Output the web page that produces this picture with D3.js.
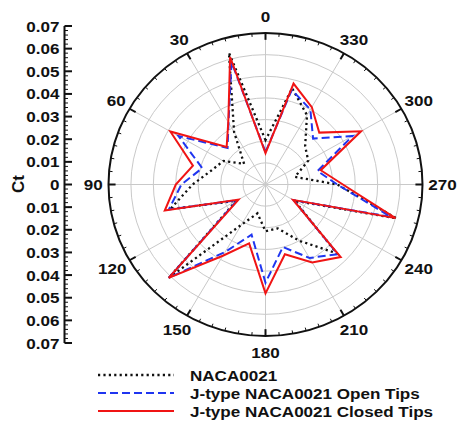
<!DOCTYPE html>
<html>
<head>
<meta charset="utf-8">
<script src="https://cdn.jsdelivr.net/npm/d3@7"></script>
<style>
html,body{margin:0;padding:0;background:#fff;}
svg{display:block;}
text{font-family:"Liberation Sans",Arial,sans-serif;font-weight:bold;fill:#111;}
</style>
</head>
<body>
<svg id="chart" width="457" height="422"></svg>
<script>
// ---- data ----
const angles = [0,15,30,45,60,75,90,105,120,135,150,165,180,195,210,225,240,255,270,285,300,315,330,345];
const naca0021 = [0.0205,0.063,0.028,0.0135,0.0217,0.025,0.0325,0.044,
                  0.015,0.061,0.0215,0.0138,0.0216,0.021,0.030,0.045,
                  0.015,0.0605,0.032,0.0136,0.022,0.025,0.037,0.046];
const openTips = [0.015,0.0585,0.033,0.0239,0.0448,0.0292,0.0375,0.0446,
                  0.0145,0.061,0.036,0.024,0.0454,0.0299,0.0392,0.0455,
                  0.0145,0.058,0.032,0.024,0.0448,0.030,0.040,0.0453];
const closedTips = [0.0145,0.061,0.0332,0.0245,0.049,0.0335,0.040,0.0465,
                    0.0139,0.061,0.038,0.0282,0.0503,0.0334,0.0416,0.0474,
                    0.0142,0.060,0.0345,0.0255,0.0492,0.0339,0.0413,0.0483];
const seriesNames = ["NACA0021","J-type NACA0021 Open Tips","J-type NACA0021 Closed Tips"];
const ctTicks = [0,0.01,0.02,0.03,0.04,0.05,0.06,0.07];
const angleLabels = [0,30,60,90,120,150,180,210,240,270,300,330];

// ---- layout ----
const svg = d3.select("#chart");
const cx = 265.5, cy = 184.5;
const rMax = 0.07;
const rX = d3.scaleLinear().domain([0, rMax]).range([0, 157]);
const rY = d3.scaleLinear().domain([0, rMax]).range([0, 151.5]);
const rad = d => d * Math.PI / 180;
const px = (a, v) => cx - Math.sin(rad(a)) * rX(v);
const py = (a, v) => cy - Math.cos(rad(a)) * rY(v);
const SX = 1.1, FS = 15.5;

// ---- grid ----
const grid = svg.append("g");
grid.selectAll("ellipse.g").data(ctTicks.filter(t => t > 0 && t < rMax)).join("ellipse")
  .attr("cx", cx).attr("cy", cy)
  .attr("rx", d => rX(d)).attr("ry", d => rY(d))
  .attr("fill", "none").attr("stroke", "#c9c9c9").attr("stroke-width", 1);
grid.selectAll("line.s").data(d3.range(0, 360, 30)).join("line")
  .attr("x1", cx).attr("y1", cy)
  .attr("x2", a => px(a, rMax)).attr("y2", a => py(a, rMax))
  .attr("stroke", "#c9c9c9").attr("stroke-width", 1);

// outer circle
svg.append("ellipse").attr("cx", cx).attr("cy", cy)
  .attr("rx", rX(rMax)).attr("ry", rY(rMax))
  .attr("fill", "none").attr("stroke", "#111").attr("stroke-width", 2);

// angular ticks (inward)
const aTicks = d3.range(0, 360, 5);
svg.append("g").selectAll("line").data(aTicks).join("line")
  .attr("x1", a => px(a, rMax)).attr("y1", a => py(a, rMax))
  .attr("x2", a => { const k = a % 30 === 0 ? 0.045 : 0.022; return px(a, rMax * (1 - k)); })
  .attr("y2", a => { const k = a % 30 === 0 ? 0.045 : 0.022; return py(a, rMax * (1 - k)); })
  .attr("stroke", "#111").attr("stroke-width", a => a % 30 === 0 ? 2 : 1);

// angle labels
const lab = svg.append("g");
angleLabels.forEach(a => {
  const w = String(a).length * 8.9 * SX * 0.95;
  const s = Math.sin(rad(a)), c = Math.cos(rad(a));
  const x = cx - s * (rX(rMax) + 6 + w / 2);
  const y = cy - c * (rY(rMax) + 16.5);
  lab.append("g").attr("transform", `translate(${x},${y + 5.5})`)
    .append("text").attr("transform", `scale(${SX},1)`)
    .attr("text-anchor", "middle").attr("font-size", FS).text(a);
});

// ---- series ----
const line = d3.line()
  .x((d, i) => px(angles[i], d))
  .y((d, i) => py(angles[i], d))
  .curve(d3.curveLinearClosed);
const styles = [
  {data: naca0021, color: "#111", dash: "2.2,3.2", w: 2.3},
  {data: openTips, color: "#1f35f0", dash: "8,4", w: 2},
  {data: closedTips, color: "#f01414", dash: null, w: 2}
];
styles.forEach(s => {
  svg.append("path").attr("d", line(s.data))
    .attr("fill", "none").attr("stroke", s.color).attr("stroke-width", s.w)
    .attr("stroke-dasharray", s.dash).attr("stroke-linejoin", "miter");
});

// ---- left Ct axis ----
const yAxisScale = d3.scaleLinear().domain([-rMax, rMax]).range([343, 26]);
const axX = 64.5;
const gAx = svg.append("g").attr("transform", `translate(${axX},0)`);
gAx.append("line").attr("x1", 0).attr("x2", 0)
  .attr("y1", yAxisScale(rMax)).attr("y2", yAxisScale(-rMax))
  .attr("stroke", "#111").attr("stroke-width", 2);
const majorVals = ctTicks.concat(ctTicks.filter(t => t > 0).map(t => -t));
const minorVals = d3.range(-35, 36).map(i => i * 0.002).filter(v => Math.abs(Math.round(v * 1000)) % 10 !== 0);
gAx.selectAll("line.mi").data(minorVals).join("line")
  .attr("x1", 0).attr("x2", 3.5)
  .attr("y1", d => yAxisScale(d)).attr("y2", d => yAxisScale(d))
  .attr("stroke", "#111").attr("stroke-width", 1);
gAx.selectAll("line.ma").data(majorVals).join("line")
  .attr("x1", 0).attr("x2", 7.5)
  .attr("y1", d => yAxisScale(d)).attr("y2", d => yAxisScale(d))
  .attr("stroke", "#111").attr("stroke-width", 2);
gAx.selectAll("g.tl").data(majorVals).join("g")
  .attr("transform", d => `translate(-5,${yAxisScale(d) + 5.5})`)
  .append("text").attr("transform", `scale(${SX},1)`)
  .attr("text-anchor", "end").attr("font-size", FS)
  .text(d => d === 0 ? "0" : d3.format(".2f")(Math.abs(d)));

svg.append("text").attr("transform", "translate(24,184) rotate(-90)")
  .attr("text-anchor", "middle").attr("font-size", 17).text("Ct");

// ---- legend ----
const leg = svg.append("g");
styles.forEach((s, i) => {
  const y = 375 + i * 18;
  leg.append("line").attr("x1", 98).attr("x2", 174).attr("y1", y).attr("y2", y)
    .attr("stroke", s.color).attr("stroke-width", s.w).attr("stroke-dasharray", s.dash);
  leg.append("g").attr("transform", `translate(190,${y + 6})`)
    .append("text").attr("transform", `scale(${SX},1)`)
    .attr("font-size", FS).text(seriesNames[i]);
});
</script>
</body>
</html>
